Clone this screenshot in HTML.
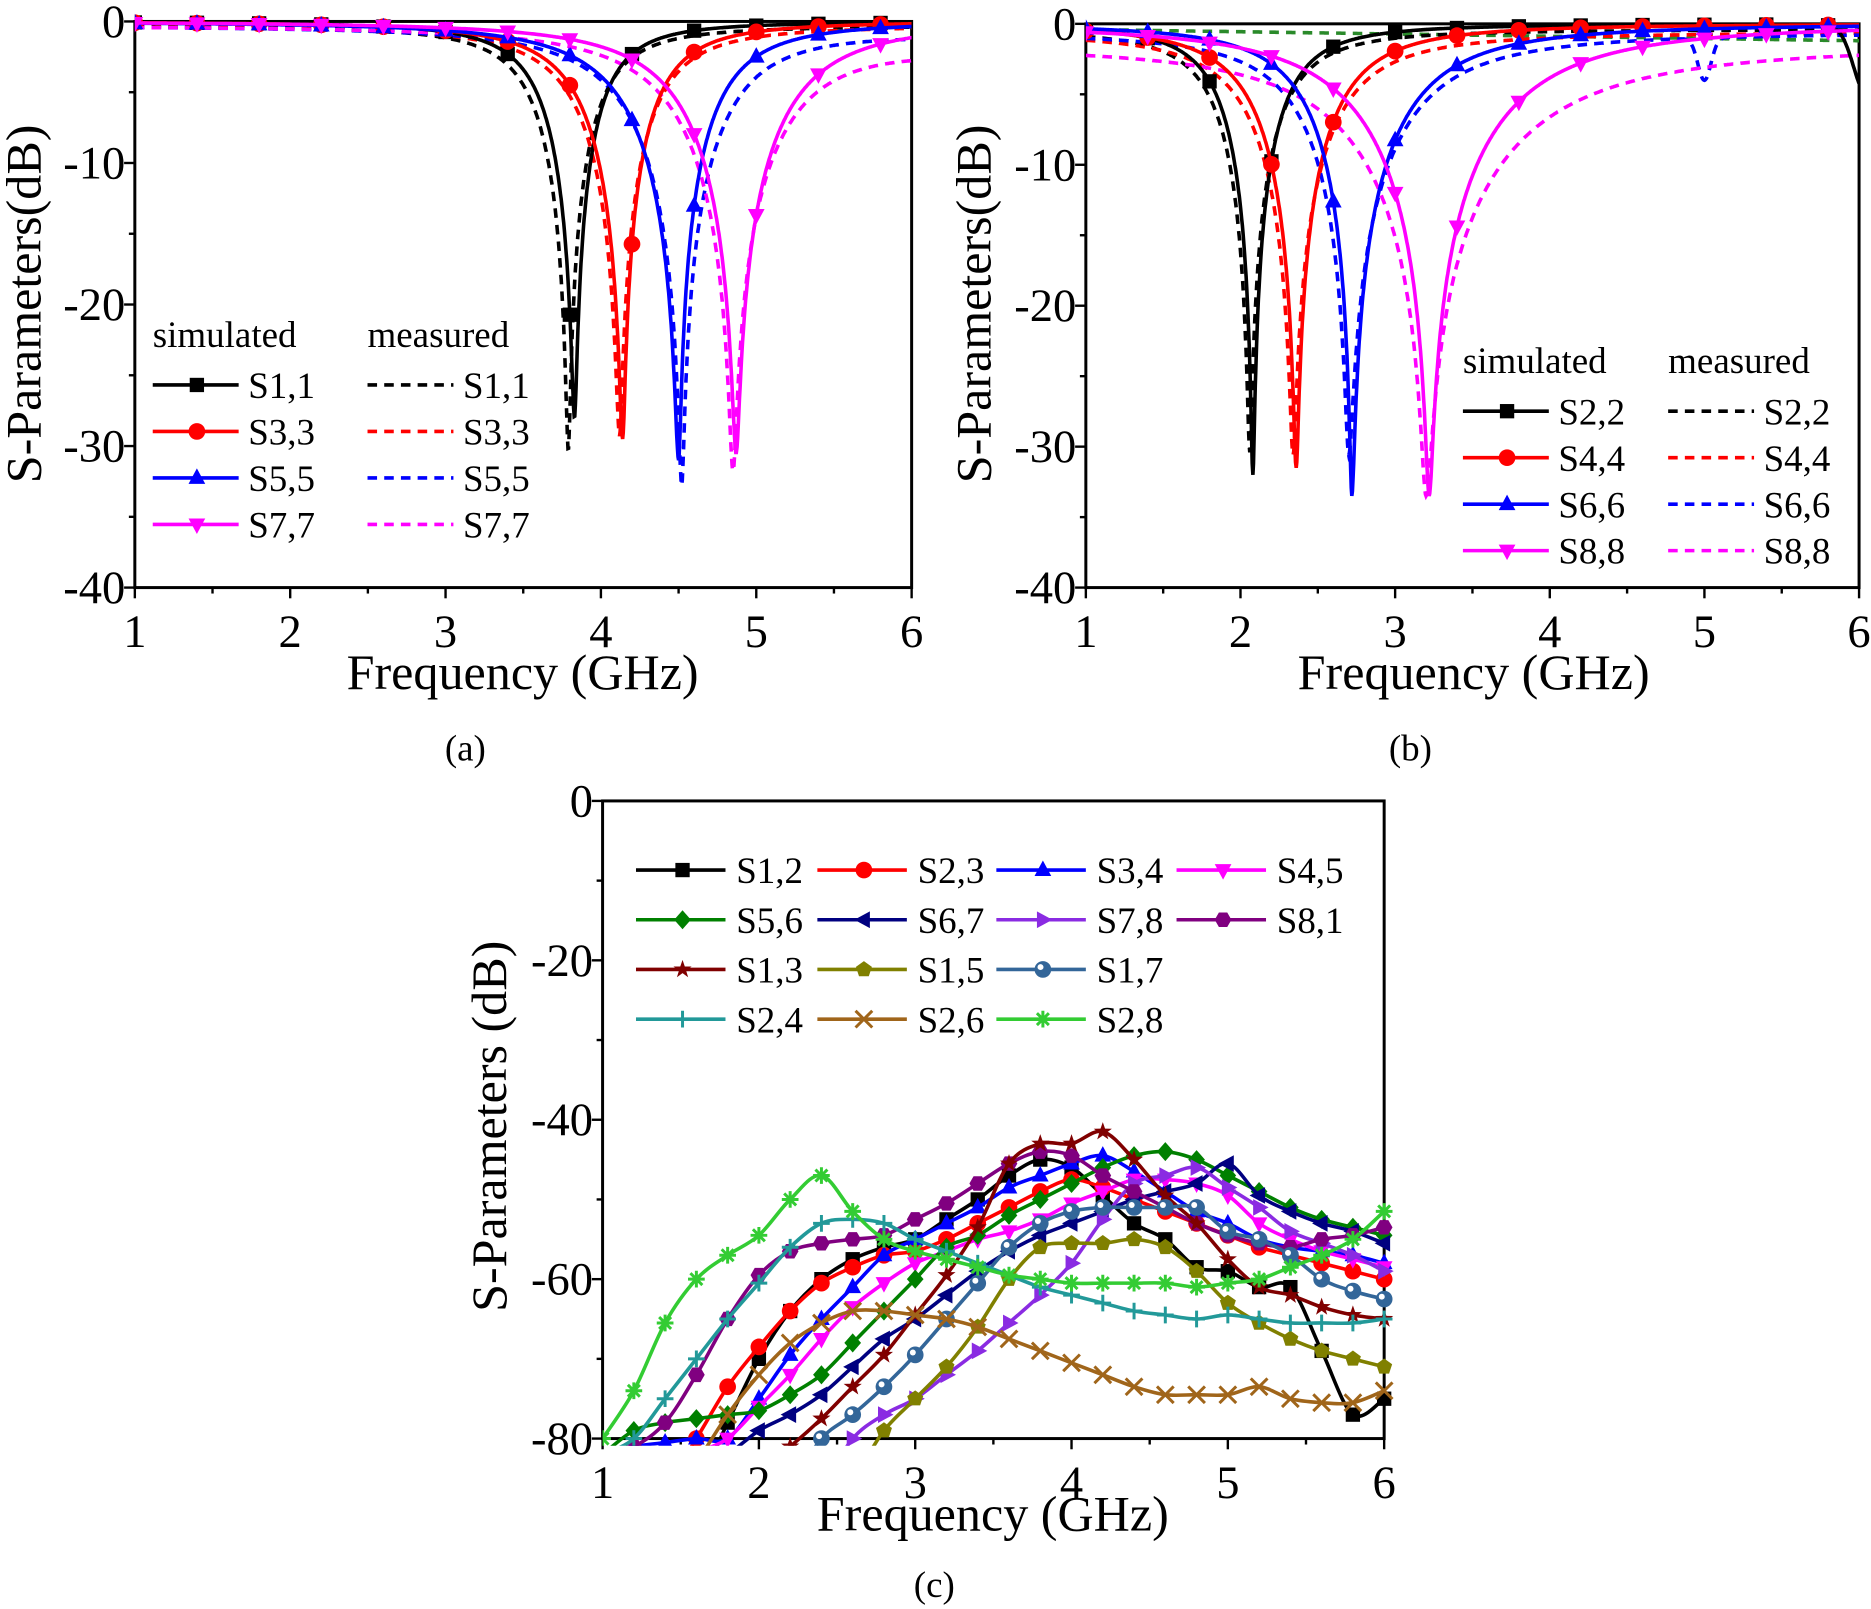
<!DOCTYPE html>
<html><head><meta charset="utf-8"><style>
html,body{margin:0;padding:0;background:#fff;}
svg{display:block;}
text{font-family:"Liberation Serif",serif;fill:#000;}
</style></head><body>
<svg id="s" width="1871" height="1609" viewBox="0 0 1568 1350" preserveAspectRatio="none" xmlns="http://www.w3.org/2000/svg"></svg>
<script>
const SV=document.getElementById('s');
function sq(a){return a*a;}
let out='';
function P(x0,x1,y0,y1,ymin,ymax){return{X:f=>x0+(f-1)/5*(x1-x0),Y:v=>y0+(ymax-v)/(ymax-ymin)*(y1-y0),x0,x1,y0,y1};}
function marker(type,x,y,c){const r=7;
 switch(type){
 case 'sq':return `<rect x="${x-r+1}" y="${y-r+1}" width="${2*r-2}" height="${2*r-2}" fill="${c}"/>`;
 case 'ci':return `<circle cx="${x}" cy="${y}" r="${r}" fill="${c}"/>`;
 case 'tu':return `<polygon points="${x},${y-r-1} ${x-r},${y+r-2} ${x+r},${y+r-2}" fill="${c}"/>`;
 case 'td':return `<polygon points="${x},${y+r+1} ${x-r},${y-r+2} ${x+r},${y-r+2}" fill="${c}"/>`;
 case 'tl':return `<polygon points="${x-r-1},${y} ${x+r-2},${y-r} ${x+r-2},${y+r}" fill="${c}"/>`;
 case 'tr':return `<polygon points="${x+r+1},${y} ${x-r+2},${y-r} ${x-r+2},${y+r}" fill="${c}"/>`;
 case 'di':return `<polygon points="${x},${y-r-1} ${x+r},${y} ${x},${y+r+1} ${x-r},${y}" fill="${c}"/>`;
 case 'hx':{let p=[];for(let i=0;i<6;i++){const a=Math.PI/3*i;p.push((x+r*Math.cos(a)).toFixed(1)+','+(y+r*Math.sin(a)).toFixed(1));}return `<polygon points="${p.join(' ')}" fill="${c}"/>`;}
 case 'pe':{let p=[];for(let i=0;i<5;i++){const a=-Math.PI/2+2*Math.PI/5*i;p.push((x+r*Math.cos(a)).toFixed(1)+','+(y+r*Math.sin(a)).toFixed(1));}return `<polygon points="${p.join(' ')}" fill="${c}"/>`;}
 case 'st':{let p=[];for(let i=0;i<10;i++){const a=-Math.PI/2+Math.PI/5*i;const rr=i%2?r*0.45:r+1;p.push((x+rr*Math.cos(a)).toFixed(1)+','+(y+rr*Math.sin(a)).toFixed(1));}return `<polygon points="${p.join(' ')}" fill="${c}"/>`;}
 case 'sp':return `<circle cx="${x}" cy="${y}" r="${r}" fill="${c}"/><circle cx="${x-2}" cy="${y-2}" r="2.5" fill="#fff"/>`;
 case 'pl':return `<path d="M${x-r} ${y}H${x+r}M${x} ${y-r}V${y+r}" stroke="${c}" stroke-width="2.5"/>`;
 case 'x':return `<path d="M${x-r} ${y-r}L${x+r} ${y+r}M${x-r} ${y+r}L${x+r} ${y-r}" stroke="${c}" stroke-width="2.5"/>`;
 case 'as':return `<path d="M${x-r} ${y}H${x+r}M${x} ${y-r}V${y+r}M${x-r+2} ${y-r+2}L${x+r-2} ${y+r-2}M${x-r+2} ${y+r-2}L${x+r-2} ${y-r+2}" stroke="${c}" stroke-width="2.5"/>`;
 }
 return '';}
function axes(p,ystep,ymin,ymax){
 let s=`<rect x="${p.x0}" y="${p.y0}" width="${p.x1-p.x0}" height="${p.y1-p.y0}" fill="none" stroke="#000" stroke-width="2.5"/>`;
 for(let f=1;f<=6;f+=0.5){const x=p.X(f);const L=(f%1==0)?9:5;s+=`<line x1="${x}" y1="${p.y1}" x2="${x}" y2="${p.y1+L}" stroke="#000" stroke-width="2"/>`;
  if(f%1==0)s+=`<text x="${x}" y="${p.y1+50}" font-size="39" text-anchor="middle">${f}</text>`;}
 for(let v=ymin;v<=ymax+0.01;v+=ystep/2){const y=p.Y(v);const maj=Math.abs(v%ystep)<0.01;s+=`<line x1="${p.x0}" y1="${y}" x2="${p.x0-(maj?9:5)}" y2="${y}" stroke="#000" stroke-width="2"/>`;
  if(maj)s+=`<text x="${p.x0-8}" y="${y+13}" font-size="39" text-anchor="end">${v}</text>`;}
 return s;}
function res(f0,A,wl,wr,base){const d2=Math.pow(10,-A/10);return f=>{const w=f<f0?wl:wr;const u2=sq((f-f0)/w);return 10*Math.log10((d2+u2)/(1+u2))+(base?base(f):0);};}
function curve(p,fn,c,dash,mk,mkStep){let d='';for(let f=1;f<=6.0001;f+=0.004){d+=(d?'L':'M')+p.X(f).toFixed(1)+' '+p.Y(fn(f)).toFixed(1);}
 let s=`<path d="${d}" fill="none" stroke="${c}" stroke-width="3" ${dash?'stroke-dasharray="8,6"':''}/>`;
 if(mk){for(let f=1;f<=6.0001;f+=mkStep){const v=fn(f);if(v>-40.5)s+=marker(mk,p.X(f),p.Y(v),c);}}
 return s;}
function clip(id,p){return `<clipPath id="${id}"><rect x="${p.x0}" y="${p.y0-8}" width="${p.x1-p.x0}" height="${p.y1-p.y0+8}"/></clipPath>`;}
const pa=P(113,764,18,493,-40,0);
const pb=P(910,1558,20,493,-40,0);
out+=clip('ca',pa)+clip('cb',pb);
out+=axes(pa,10,-40,0);
let g='';
g+=curve(pa,res(3.79,30,0.37,0.34,f=>-0.3),'#000',1);
g+=curve(pa,res(4.12,29,0.47,0.4,f=>-0.3),'#f00',1);
g+=curve(pa,res(4.52,32.5,0.62,0.55,f=>-0.3-0.4*Math.max(0,f-5)),'#00f',1);
g+=curve(pa,res(4.85,31.5,0.67,0.7,f=>-0.3-1.1*Math.max(0,f-5)),'#f0f',1);
g+=curve(pa,res(3.83,28,0.36,0.31),'#000',0,'sq',0.4);
g+=curve(pa,res(4.14,29.5,0.46,0.37),'#f00',0,'ci',0.4);
g+=curve(pa,res(4.5,31,0.6,0.44),'#00f',0,'tu',0.4);
g+=curve(pa,res(4.87,30.5,0.62,0.62),'#f0f',0,'td',0.4);
out+=`<g clip-path="url(#ca)">${g}</g>`;
out+=axes(pb,10,-40,0);
g='';
g+=curve(pb,f=>-0.4-0.8*(f-1)/5,'#2a8a2a',1);
g+=curve(pb,res(2.06,30,0.37,0.37,f=>-0.4),'#000',1);
g+=curve(pb,res(2.34,30,0.5,0.52,f=>-0.6),'#f00',1);
g+=curve(pb,res(2.7,30,0.55,0.72,f=>-0.6-3*Math.exp(-sq((f-5)/0.06))),'#00f',1);
g+=curve(pb,res(3.2,32,0.95,1.2,f=>-1.5),'#f0f',1);
g+=curve(pb,res(2.08,32,0.35,0.35,f=>-5*Math.exp(-sq((f-6.05)/0.12))),'#000',0,'sq',0.4);
g+=curve(pb,res(2.36,31.5,0.48,0.48),'#f00',0,'ci',0.4);
g+=curve(pb,res(2.72,33.5,0.5,0.67),'#00f',0,'tu',0.4);
g+=curve(pb,res(3.22,33.5,0.85,0.93),'#f0f',0,'td',0.4);
out+=`<g clip-path="url(#cb)">${g}</g>`;
out+=`<text transform="translate(34,255) rotate(-90)" font-size="42" text-anchor="middle">S-Parameters(dB)</text>`;
out+=`<text x="438" y="578" font-size="42" text-anchor="middle">Frequency (GHz)</text>`;
out+=`<text x="390" y="638" font-size="31" text-anchor="middle">(a)</text>`;
out+=`<text transform="translate(830,255) rotate(-90)" font-size="42" text-anchor="middle">S-Parameters(dB)</text>`;
out+=`<text x="1235" y="578" font-size="42" text-anchor="middle">Frequency (GHz)</text>`;
out+=`<text x="1182" y="638" font-size="31" text-anchor="middle">(b)</text>`;
function leg2(lx,ly,names,mks,cols,mx){let s=`<text x="${lx}" y="${ly}" font-size="31">simulated</text><text x="${mx}" y="${ly}" font-size="31">measured</text>`;
 names.forEach((n,i)=>{const y=ly+32+i*39;s+=`<line x1="${lx}" y1="${y}" x2="${lx+72}" y2="${y}" stroke="${cols[i]}" stroke-width="3"/>`+marker(mks[i],lx+37,y,cols[i])+`<text x="${lx+80}" y="${y+11}" font-size="31">${n}</text>`;
 s+=`<line x1="${mx}" y1="${y}" x2="${mx+72}" y2="${y}" stroke="${cols[i]}" stroke-width="3" stroke-dasharray="8,6"/><text x="${mx+80}" y="${y+11}" font-size="31">${n}</text>`;});return s;}
out+=leg2(128,291,['S1,1','S3,3','S5,5','S7,7'],['sq','ci','tu','td'],['#000','#f00','#00f','#f0f'],308);
out+=leg2(1226,313,['S2,2','S4,4','S6,6','S8,8'],['sq','ci','tu','td'],['#000','#f00','#00f','#f0f'],1398);
const pc=P(505,1160,672,1207,-80,0);
let cs=`<rect x="${pc.x0}" y="${pc.y0}" width="${pc.x1-pc.x0}" height="${pc.y1-pc.y0}" fill="none" stroke="#000" stroke-width="2.5"/>`;
for(let f=1;f<=6;f+=0.5){const x=pc.X(f);const L=(f%1==0)?9:5;cs+=`<line x1="${x}" y1="${pc.y1}" x2="${x}" y2="${pc.y1+L}" stroke="#000" stroke-width="2"/>`;if(f%1==0)cs+=`<text x="${x}" y="${pc.y1+50}" font-size="39" text-anchor="middle">${f}</text>`;}
for(let v=-80;v<=0;v+=10){const y=pc.Y(v);const maj=v%20==0;cs+=`<line x1="${pc.x0}" y1="${y}" x2="${pc.x0-(maj?9:5)}" y2="${y}" stroke="#000" stroke-width="2"/>`;if(maj)cs+=`<text x="${pc.x0-8}" y="${y+13}" font-size="39" text-anchor="end">${v}</text>`;}
out+=cs;
const D=[
['S1,2','#000','sq',[-88,-88,-88,-86,-78,-70,-64,-60,-57.5,-56,-55,-52.5,-50,-47,-45,-46,-49.5,-53,-55,-58.5,-59,-61,-61,-69,-77,-75]],
['S2,3','#f00','ci',[-90,-88,-86,-80,-73.5,-68.5,-64,-60.5,-58.5,-57,-56.5,-55,-53,-51,-49,-47.5,-48.5,-50,-51.5,-53,-54.5,-56,-57,-58,-59,-60]],
['S3,4','#00f','tu',[-82,-81,-80.5,-80,-80,-75,-69.5,-65,-61,-57,-55,-53,-51,-48.5,-47,-45.5,-44.5,-46.5,-49,-51.5,-53,-55,-56,-56.5,-57,-58]],
['S4,5','#f0f','td',[-90,-88,-86,-82,-80,-76,-72,-67.5,-63.5,-60.5,-58,-56.5,-55,-54,-52.5,-50.5,-49,-47.5,-47.5,-48,-49.5,-53,-55,-56.5,-57.5,-58.5]],
['S5,6','#008000','di',[-82,-79,-78,-77.5,-77,-76.5,-74.5,-72,-68,-64,-60,-56,-54.5,-52,-50,-48,-46,-44.5,-44,-45,-47,-49,-51,-52.5,-53.5,-54.5]],
['S6,7','#000080','tl',[-90,-88,-86,-84,-82,-79,-77,-74.5,-71,-67.5,-65,-62,-59,-56.5,-54.5,-53,-51.5,-50,-49,-48,-45.5,-49.5,-51.5,-53,-54,-55.5]],
['S7,8','#8a2be2','tr',[-95,-95,-95,-95,-95,-92,-89,-86,-80,-77,-75,-72,-69,-65.5,-62,-58,-52.5,-48,-47,-46,-48.5,-51,-54,-55.5,-57,-59]],
['S8,1','#800080','hx',[-82,-81,-78,-72,-65,-59.5,-56.5,-55.5,-55,-54.5,-52.5,-50.5,-48,-45.5,-44,-44.5,-47,-49,-51,-53,-54.5,-55.5,-56,-55,-54.5,-53.5]],
['S1,3','#800000','st',[-95,-95,-92,-90,-87,-84,-81,-77.5,-73.5,-69.5,-64.5,-59.5,-53.5,-45.5,-43,-43,-41.5,-45,-49.5,-53,-57.5,-61,-62,-63.5,-64.5,-65]],
['S1,5','#808000','pe',[-99,-99,-99,-99,-97,-94,-91,-88,-85,-79,-75,-71,-66,-60,-56,-55.5,-55.5,-55,-56,-59,-63,-65.5,-67.5,-69,-70,-71]],
['S1,7','#336699','sp',[-98,-98,-97,-95,-92,-89,-86,-80,-77,-73.5,-69.5,-65,-60.5,-56,-53,-51.5,-51,-51,-51,-51,-54,-55,-57,-60,-61.5,-62.5]],
['S2,4','#229999','pl',[-82,-80,-75,-70,-65,-60.5,-56,-53,-52.5,-53,-55,-56.5,-58,-59.5,-61,-62,-63,-64,-64.5,-65,-64.5,-65,-65.5,-65.5,-65.5,-65]],
['S2,6','#a0651a','x',[-95,-92,-88,-83,-77,-72,-68,-65.5,-64,-64,-64.5,-65,-66,-67.5,-69,-70.5,-72,-73.5,-74.5,-74.5,-74.5,-73.5,-75,-75.5,-75.5,-74]],
['S2,8','#33cc33','as',[-80,-74,-65.5,-60,-57,-54.5,-50,-47,-51.5,-55,-56.5,-57.5,-58.5,-59.5,-60,-60.5,-60.5,-60.5,-60.5,-61,-60.5,-60,-58.5,-57,-55,-51.5]]];
out+=`<clipPath id="cc"><rect x="${pc.x0}" y="${pc.y0}" width="${pc.x1-pc.x0+8}" height="${pc.y1-pc.y0+6}"/></clipPath>`;
g='';
function cr(pts){let d=`M${pts[0][0].toFixed(1)} ${pts[0][1].toFixed(1)}`;for(let i=0;i<pts.length-1;i++){const p0=pts[Math.max(0,i-1)],p1=pts[i],p2=pts[i+1],p3=pts[Math.min(pts.length-1,i+2)];
 d+=`C${(p1[0]+(p2[0]-p0[0])/6).toFixed(1)} ${(p1[1]+(p2[1]-p0[1])/6).toFixed(1)} ${(p2[0]-(p3[0]-p1[0])/6).toFixed(1)} ${(p2[1]-(p3[1]-p1[1])/6).toFixed(1)} ${p2[0].toFixed(1)} ${p2[1].toFixed(1)}`;}return d;}
D.forEach(([n,c,m,v])=>{const pts=v.map((y,i)=>[pc.X(1+0.2*i),pc.Y(y)]);g+=`<path d="${cr(pts)}" fill="none" stroke="${c}" stroke-width="3"/>`;
 pts.forEach((p,i)=>{if(v[i]>=-81)g+=marker(m,p[0],p[1],c);});});
out+=`<g clip-path="url(#cc)">${g}</g>`;
const cols=[533,685,835,986];
D.forEach(([n,c,m],i)=>{let r,col;if(i<8){r=Math.floor(i/4);col=i%4;}else{r=2+Math.floor((i-8)/3);col=(i-8)%3;}
 const x=cols[col],y=730+r*41.7;out+=`<line x1="${x}" y1="${y}" x2="${x+75}" y2="${y}" stroke="${c}" stroke-width="3"/>`+marker(m,x+39,y,c)+`<text x="${x+84}" y="${y+11}" font-size="31">${n}</text>`;});
out+=`<text transform="translate(424,945) rotate(-90)" font-size="42" text-anchor="middle">S-Parameters (dB)</text>`;
out+=`<text x="832" y="1284" font-size="42" text-anchor="middle">Frequency (GHz)</text>`;
out+=`<text x="783" y="1340" font-size="31" text-anchor="middle">(c)</text>`;
SV.innerHTML=out;
</script>
</body></html>
